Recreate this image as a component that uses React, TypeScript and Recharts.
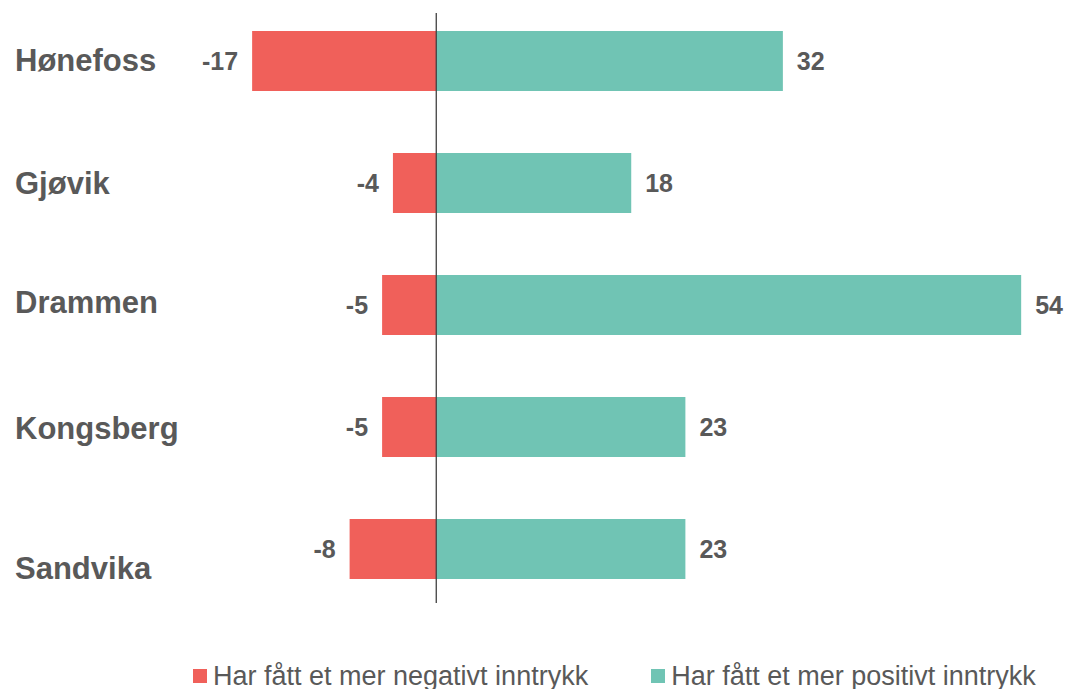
import { Bar, BarChart, XAxis, YAxis, Legend, LabelList, ReferenceLine } from 'recharts';

const cities = ['Hønefoss', 'Gjøvik', 'Drammen', 'Kongsberg', 'Sandvika'];
const negative = [-17, -4, -5, -5, -8];
const positive = [32, 18, 54, 23, 23];
const seriesNames = ['Har fått et mer negativt inntrykk', 'Har fått et mer positivt inntrykk'];

// small vertical nudges for the city labels, as in the original slide
const labelNudge = [-1, 0, -3, 1, 19];

const data = cities.map((city, i) => ({ city, neg: negative[i], pos: positive[i] }));

const FONT = '"Liberation Sans", Arial, sans-serif';
const TEXT = '#595959';
const RED = '#F0605A';
const TEAL = '#70C4B4';
const valueStyle = { fill: TEXT, fontSize: 25, fontWeight: 'bold', fontFamily: FONT };

const CityTick = (props: any) => {
  const { y, payload, index } = props;
  return (
    <text x={15} y={y + (labelNudge[index] ?? 0)} textAnchor="start" dominantBaseline="central"
      style={{ fontFamily: FONT, fontSize: 31, fontWeight: 'bold', fill: TEXT }}>
      {payload.value}
    </text>
  );
};

// label at the outer end of a bar (left end for negative, right end for positive)
const OuterLabel = (props: any) => {
  const { x, y, width, height, value } = props;
  const left = Math.min(x, x + width);
  const right = Math.max(x, x + width);
  const neg = value < 0;
  return (
    <text x={neg ? left - 14 : right + 14} y={y + height / 2} textAnchor={neg ? 'end' : 'start'}
      dominantBaseline="central" style={valueStyle}>
      {value}
    </text>
  );
};

const LegendContent = (props: any) => {
  const { payload } = props;
  return (
    <div style={{ display: 'flex', paddingLeft: 193, fontFamily: FONT, fontSize: 27, color: TEXT, lineHeight: '30px' }}>
      {(payload || []).map((p: any, i: number) => (
        <div key={i} style={{ display: 'flex', alignItems: 'center', marginRight: i === 0 ? 63 : 0 }}>
          <span style={{ width: 14, height: 14, background: p.color, marginRight: 6, display: 'inline-block' }} />
          <span>{p.value}</span>
        </div>
      ))}
    </div>
  );
};

const ZeroLine = (p: any) => (
  <line x1={p.x1} x2={p.x2} y1={13} y2={603} stroke="#404040" strokeWidth={1.3} />
);

export default function App() {
  return (
    <div style={{ position: 'absolute', left: 0, top: 0, width: 1068, height: 689, background: '#fff' }}>
      <BarChart width={1068} height={689} data={data} layout="vertical" stackOffset="sign"
        margin={{ top: 0, right: 36, left: 2, bottom: 79 }}>
        <XAxis type="number" domain={[-40, 55]} hide />
        <YAxis type="category" dataKey="city" width={1} axisLine={false} tickLine={false} tick={<CityTick />} />
        <Legend layout="horizontal" verticalAlign="middle" align="center"
          wrapperStyle={{ top: 661, left: 0, width: 1068 }} content={<LegendContent />} />
        <Bar dataKey="neg" name={seriesNames[0]} stackId="a" fill={RED} barSize={60} isAnimationActive={false}>
          <LabelList dataKey="neg" content={<OuterLabel />} />
        </Bar>
        <Bar dataKey="pos" name={seriesNames[1]} stackId="a" fill={TEAL} barSize={60} isAnimationActive={false}>
          <LabelList dataKey="pos" content={<OuterLabel />} />
        </Bar>
        <ReferenceLine x={0} shape={ZeroLine} />
      </BarChart>
    </div>
  );
}
